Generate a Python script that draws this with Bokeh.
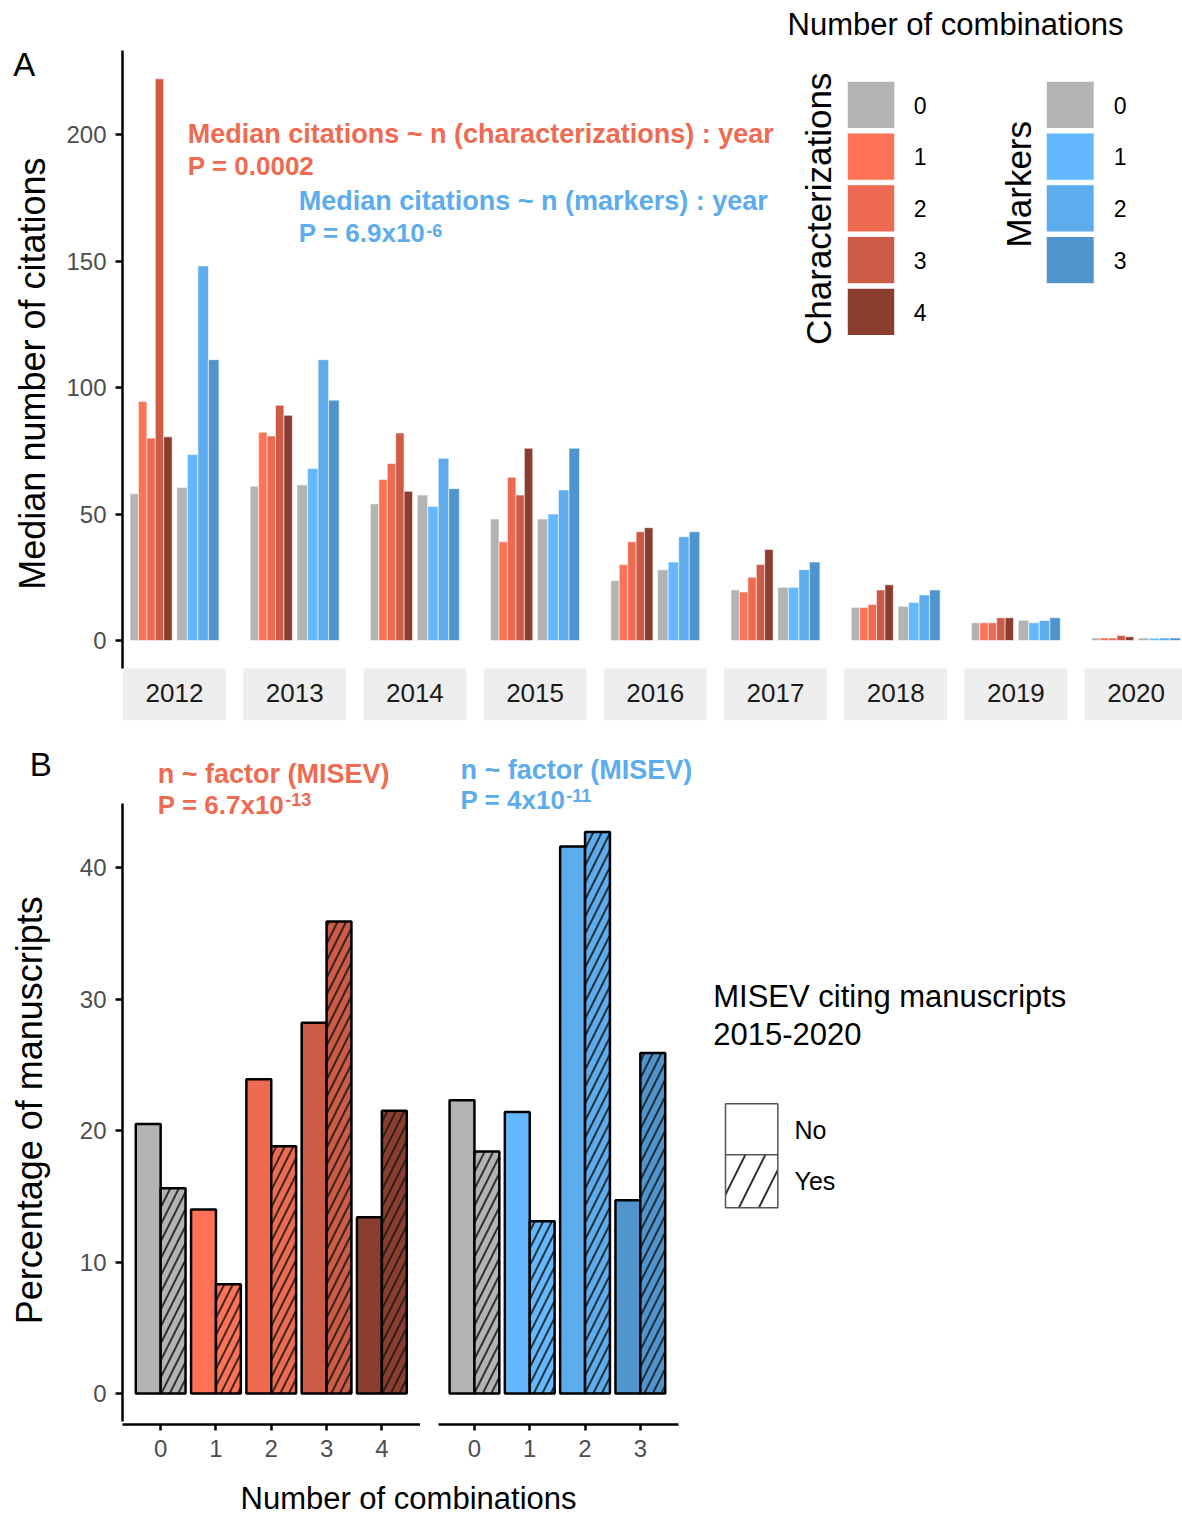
import math
from bokeh.plotting import figure
from bokeh.layouts import column, row
from bokeh.models import Range1d, Label, FixedTicker, SingleIntervalTicker, ColumnDataSource
from bokeh.embed import file_html
from bokeh.resources import INLINE
from bokeh.core.properties import value

# ---------------- data ----------------
years = ["2012", "2013", "2014", "2015", "2016", "2017", "2018", "2019", "2020"]
char_levels = ["0", "1", "2", "3", "4"]
marker_levels = ["0", "1", "2", "3"]

# Panel A: median number of citations per year, by number of characterizations
char_median_0 = [58, 61, 54, 48, 23.6, 20, 13, 7, 1]
char_median_1 = [94.5, 82.3, 63.6, 39, 30, 19.2, 13, 7, 1]
char_median_2 = [80, 80.8, 70, 64.5, 39, 25, 14.2, 7, 1]
char_median_3 = [222, 93, 82, 57.5, 43, 30, 20, 9, 2]
char_median_4 = [80.5, 89, 59, 76, 44.6, 36, 22, 9, 1.5]
# ... and by number of markers
marker_median_0 = [60.5, 61.5, 57.5, 48, 28, 21, 13.5, 8, 1]
marker_median_1 = [73.5, 68, 53, 50, 31, 21, 15, 7, 0.9]
marker_median_2 = [148, 111, 72, 59.5, 41, 28, 18, 7.9, 1]
marker_median_3 = [111, 95, 60, 76, 43, 31, 20, 9, 1]

# Panel B: percentage of manuscripts (MISEV citing No / Yes)
misev = ["No", "Yes"]
char_pct_no = [20.5, 14.0, 23.9, 28.2, 13.4]
char_pct_yes = [15.6, 8.3, 18.8, 35.9, 21.5]
marker_pct_no = [22.3, 21.4, 41.6, 14.7]
marker_pct_yes = [18.4, 13.1, 42.7, 25.9]

char_medians = [char_median_0, char_median_1, char_median_2, char_median_3, char_median_4]
marker_medians = [marker_median_0, marker_median_1, marker_median_2, marker_median_3]

# ---------------- style ----------------
FONT = "Liberation Sans"
CHAR_COLORS = ["#B3B3B3", "#FF7256", "#EE6A50", "#CD5B45", "#8B3E2F"]
MARK_COLORS = ["#B3B3B3", "#63B8FF", "#5CACEE", "#4F94CD"]
RED_TXT = "#EE6A50"
BLUE_TXT = "#5CACEE"
TICK_COL = "#4D4D4D"
TOTAL_W = 1182
LEFT_W = 56          # width of the narrow figures holding panel letters and y titles
MID = 0.35           # distance (in em) from baseline to the middle of the text box


def style_axis(ax, tick_out, standoff):
    ax.axis_line_color = "black"
    ax.axis_line_width = 2.5
    ax.major_tick_line_color = "black"
    ax.major_tick_line_width = 2.5
    ax.major_tick_out = tick_out
    ax.major_tick_in = 0
    ax.minor_tick_line_color = None
    ax.major_label_standoff = standoff
    ax.major_label_text_font = FONT
    ax.major_label_text_font_size = "24px"
    ax.major_label_text_color = TICK_COL


def clean(p):
    p.xgrid.visible = False
    p.ygrid.visible = False
    p.outline_line_color = None
    p.background_fill_color = "white"
    p.border_fill_color = "white"


def put(p, mx, my, px, py_base, text, size, color="black", style="normal", align="left"):
    """horizontal text; py_base is the page y of the baseline"""
    p.add_layout(Label(x=mx(px), y=my(py_base - MID * size), text=text, text_font=FONT,
                       text_font_size=f"{size}px", text_color=color, text_font_style=style,
                       text_align=align, text_baseline="middle"))


def put_rot(p, mx, my, px_base, py_mid, text, size, color="black"):
    """text rotated 90 deg (reading upwards); px_base is the page x of the baseline"""
    p.add_layout(Label(x=mx(px_base - MID * size), y=my(py_mid), text=text, text_font=FONT,
                       text_font_size=f"{size}px", text_color=color, text_align="center",
                       text_baseline="middle", angle=math.pi / 2))


def pixel_fig(x0, y0, w, h):
    """a blank figure; returns it with functions mapping page pixels to its data coordinates"""
    p = figure(width=w, height=h, x_range=Range1d(0, w), y_range=Range1d(0, h),
               x_axis_location=None, y_axis_location=None, toolbar_location=None,
               output_backend="svg", title=None, min_border_left=0, min_border_right=0,
               min_border_top=0, min_border_bottom=0)
    clean(p)
    return p, (lambda px: px - x0), (lambda py: (y0 + h) - py)


# ============ Panel A ============
A_LEFT, A_RIGHT = 122, TOTAL_W   # frame edges (page px)
A_TOP, A_BOTTOM = 0, 720
A_FIG_H = 743
A_ZERO, A_PPU = 640, 2.53        # page y of 0, px per citation
A_XPPU = 46.8                    # px per x unit
FACET_PITCH = 120.2 / A_XPPU     # facet spacing in x units
DODGE = 0.9

all_med = [v for s in char_medians + marker_medians for v in s]
ymaxA = max(all_med)
A_lo, A_hi = -0.05 * ymaxA, 1.05 * ymaxA

xA0 = 0.4 - 0.5 / A_XPPU
xA1 = xA0 + (A_RIGHT - A_LEFT) / A_XPPU
yA0 = -(A_BOTTOM - A_ZERO) / A_PPU
yA1 = (A_ZERO - A_TOP) / A_PPU


def ax_(px):
    return xA0 + (px - A_LEFT) / A_XPPU


def ay_(py):
    return (A_ZERO - py) / A_PPU


pA = figure(width=TOTAL_W - LEFT_W, height=A_FIG_H, x_range=Range1d(xA0, xA1), y_range=Range1d(yA0, yA1),
            x_axis_location=None, toolbar_location=None, output_backend="svg", title=None,
            min_border_left=A_LEFT - LEFT_W, min_border_right=0, min_border_top=0,
            min_border_bottom=A_FIG_H - A_BOTTOM)
clean(pA)

bx, bw, bt, bc = [], [], [], []
for i, yr in enumerate(years):
    off = i * FACET_PITCH
    w = DODGE / len(char_levels)
    for j in range(len(char_levels)):
        bx.append(off + 1 - DODGE / 2 + (j + 0.5) * w)
        bw.append(w)
        bt.append(char_medians[j][i])
        bc.append(CHAR_COLORS[j])
    w = DODGE / len(marker_levels)
    for j in range(len(marker_levels)):
        bx.append(off + 2 - DODGE / 2 + (j + 0.5) * w)
        bw.append(w)
        bt.append(marker_medians[j][i])
        bc.append(MARK_COLORS[j])
srcA = ColumnDataSource(dict(x=bx, w=bw, top=bt, color=bc))
pA.vbar(x="x", width="w", top="top", bottom=0, source=srcA, fill_color="color",
        line_color="white", line_width=0.8, line_alpha=0.7)

# facet strips
strip_l = [i * FACET_PITCH + 0.4 for i in range(len(years))]
strip_r = [i * FACET_PITCH + 2.6 for i in range(len(years))]
pA.quad(left=strip_l, right=strip_r, bottom=yA0, top=A_lo, fill_color="#EEEEEE", line_color=None)
pA.text(x=[i * FACET_PITCH + 1.5 for i in range(len(years))], y=ay_(701.7 - MID * 26), text=years,
        text_font=value(FONT), text_font_size="26px", text_color="#1A1A1A",
        text_align="center", text_baseline="middle")

yaxA = pA.yaxis[0]
style_axis(yaxA, 7, 9)
yaxA.ticker = SingleIntervalTicker(interval=50, num_minor_ticks=0)
yaxA.bounds = (A_lo, A_hi)

# annotations
put(pA, ax_, ay_, 187.3, 143.3, "Median citations ~ n (characterizations) : year", 27, RED_TXT, "bold")
put(pA, ax_, ay_, 187.3, 175.0, "P = 0.0002", 26, RED_TXT, "bold")
put(pA, ax_, ay_, 298.3, 210.0, "Median citations ~ n (markers) : year", 27, BLUE_TXT, "bold")
put(pA, ax_, ay_, 298.3, 241.7, "P = 6.9x10", 26, BLUE_TXT, "bold")
put(pA, ax_, ay_, 298.3 + 4.865 * 26 + 1, 236.0, "-6", 18, BLUE_TXT, "bold")

# legend (Number of combinations)
put(pA, ax_, ay_, 787, 35, "Number of combinations", 31)
KEY_TOP0, KEY_PITCH, KEY_H = 80.7, 51.75, 47.3
ck_top = [KEY_TOP0 + j * KEY_PITCH for j in range(len(char_levels))]
pA.quad(left=ax_(846.7), right=ax_(894.3), top=[ay_(t) for t in ck_top],
        bottom=[ay_(t + KEY_H) for t in ck_top], fill_color=CHAR_COLORS, line_color="white", line_width=1)
for j, lv in enumerate(char_levels):
    put(pA, ax_, ay_, 913.3, ck_top[j] + KEY_H / 2 + 8.3, lv, 23)
mk_top = [KEY_TOP0 + j * KEY_PITCH for j in range(len(marker_levels))]
pA.quad(left=ax_(1045.7), right=ax_(1093.7), top=[ay_(t) for t in mk_top],
        bottom=[ay_(t + KEY_H) for t in mk_top], fill_color=MARK_COLORS, line_color="white", line_width=1)
for j, lv in enumerate(marker_levels):
    put(pA, ax_, ay_, 1113.3, mk_top[j] + KEY_H / 2 + 8.3, lv, 23)
put_rot(pA, ax_, ay_, 830, 208.3, "Characterizations", 35)
put_rot(pA, ax_, ay_, 1030, 183.7, "Markers", 35)

# narrow left figure: panel letter and y title
pAL, alx, aly = pixel_fig(0, 0, LEFT_W, A_FIG_H)
put(pAL, alx, aly, 12.7, 77.3, "A", 33)
put_rot(pAL, alx, aly, 44.5, 385, "Median number of citations", 36)

# ============ Panel B ============
B_TOP, B_FBOT, B_FIGBOT = A_FIG_H, 1424, 1469
B_ZERO, B_PPU = 1393, 13.15
B_XPPU = 55.3
BL_LEFT, BL_RIGHT = 122, 420
BR_LEFT, BR_RIGHT = 438, TOTAL_W

all_pct = char_pct_no + char_pct_yes + marker_pct_no + marker_pct_yes
ymaxB = max(all_pct)
B_lo, B_hi = -0.05 * ymaxB, 1.05 * ymaxB
yB0 = -(B_FBOT - B_ZERO) / B_PPU
yB1 = (B_ZERO - B_TOP) / B_PPU

xBL0 = -0.69
xBL1 = xBL0 + (BL_RIGHT - BL_LEFT) / B_XPPU
xBR0 = -0.65
xBR1 = xBR0 + (BR_RIGHT - BR_LEFT) / B_XPPU


def by_(py):
    return (B_ZERO - py) / B_PPU


def bxl_(px):
    return xBL0 + (px - BL_LEFT) / B_XPPU


def bxr_(px):
    return xBR0 + (px - BR_LEFT) / B_XPPU


HATCH = dict(hatch_pattern="/", hatch_scale=17, hatch_weight=2, hatch_color="#1A1A1A", hatch_alpha=0.85)

figH = B_FIGBOT - B_TOP
pBL = figure(width=BL_RIGHT - LEFT_W, height=figH, x_range=Range1d(xBL0, xBL1), y_range=Range1d(yB0, yB1),
             toolbar_location=None, output_backend="svg", title=None,
             min_border_left=BL_LEFT - LEFT_W, min_border_right=0, min_border_top=0,
             min_border_bottom=B_FIGBOT - B_FBOT)
clean(pBL)
cx = list(range(len(char_levels)))
pBL.vbar(x=[c - DODGE / 4 for c in cx], width=DODGE / 2, top=char_pct_no, bottom=0,
         fill_color=CHAR_COLORS, line_color="black", line_width=2.5)
pBL.vbar(x=[c + DODGE / 4 for c in cx], width=DODGE / 2, top=char_pct_yes, bottom=0,
         fill_color=CHAR_COLORS, line_color="black", line_width=2.5, **HATCH)
yaxB = pBL.yaxis[0]
style_axis(yaxB, 7, 9)
yaxB.ticker = SingleIntervalTicker(interval=10, num_minor_ticks=0)
yaxB.bounds = (B_lo, B_hi)
xaxBL = pBL.xaxis[0]
style_axis(xaxBL, 6, 9)
xaxBL.ticker = FixedTicker(ticks=cx)
xaxBL.major_label_overrides = {c: lv for c, lv in zip(cx, char_levels)}
put(pBL, bxl_, by_, 157.3, 783.3, "n ~ factor (MISEV)", 27, RED_TXT, "bold")
put(pBL, bxl_, by_, 157.3, 813.3, "P = 6.7x10", 26, RED_TXT, "bold")
put(pBL, bxl_, by_, 157.3 + 4.865 * 26 + 1, 805.0, "-13", 18, RED_TXT, "bold")

pBR = figure(width=BR_RIGHT - BL_RIGHT, height=figH, x_range=Range1d(xBR0, xBR1), y_range=Range1d(yB0, yB1),
             y_axis_location=None, toolbar_location=None, output_backend="svg", title=None,
             min_border_left=BR_LEFT - BL_RIGHT, min_border_right=0, min_border_top=0,
             min_border_bottom=B_FIGBOT - B_FBOT)
clean(pBR)
mx = list(range(len(marker_levels)))
pBR.vbar(x=[c - DODGE / 4 for c in mx], width=DODGE / 2, top=marker_pct_no, bottom=0,
         fill_color=MARK_COLORS, line_color="black", line_width=2.5)
pBR.vbar(x=[c + DODGE / 4 for c in mx], width=DODGE / 2, top=marker_pct_yes, bottom=0,
         fill_color=MARK_COLORS, line_color="black", line_width=2.5, **HATCH)
xaxBR = pBR.xaxis[0]
style_axis(xaxBR, 6, 9)
xaxBR.ticker = FixedTicker(ticks=mx)
xaxBR.major_label_overrides = {c: lv for c, lv in zip(mx, marker_levels)}
xaxBR.bounds = (xBR0, len(marker_levels) - 1 - xBL0)
put(pBR, bxr_, by_, 460, 779, "n ~ factor (MISEV)", 27, BLUE_TXT, "bold")
put(pBR, bxr_, by_, 460, 809, "P = 4x10", 26, BLUE_TXT, "bold")
put(pBR, bxr_, by_, 460 + 4.031 * 26 + 1, 801, "-11", 18, BLUE_TXT, "bold")

# legend for MISEV
put(pBR, bxr_, by_, 712.7, 1006.7, "MISEV citing manuscripts", 31)
put(pBR, bxr_, by_, 712.7, 1044.5, "2015-2020", 31)
pBR.quad(left=bxr_(725), right=bxr_(777.3), top=by_(1103.3), bottom=by_(1154.3),
         fill_color="white", line_color="#555555", line_width=1.5)
pBR.quad(left=bxr_(725), right=bxr_(777.3), top=by_(1154.3), bottom=by_(1207.3),
         fill_color="white", line_color="#555555", line_width=1.5,
         hatch_pattern="/", hatch_scale=40, hatch_weight=2, hatch_color="#333333")
put(pBR, bxr_, by_, 794, 1138.3, misev[0], 25)
put(pBR, bxr_, by_, 794, 1189.3, misev[1], 25)

pBLL, blx, bly = pixel_fig(0, B_TOP, LEFT_W, figH)
put(pBLL, blx, bly, 29.3, 776.7, "B", 33)
put_rot(pBLL, blx, bly, 41.5, 1134, "Percentage of manuscripts", 36)

# bottom shared x-axis title
BOT_H = 47
pX, xlx, xly = pixel_fig(0, B_FIGBOT, TOTAL_W, BOT_H)
put(pX, xlx, xly, 408, 1509, "Number of combinations", 31, align="center")

layout = column(row(pAL, pA), row(pBLL, pBL, pBR), pX)
open("out.html", "w").write(file_html(layout, INLINE))
